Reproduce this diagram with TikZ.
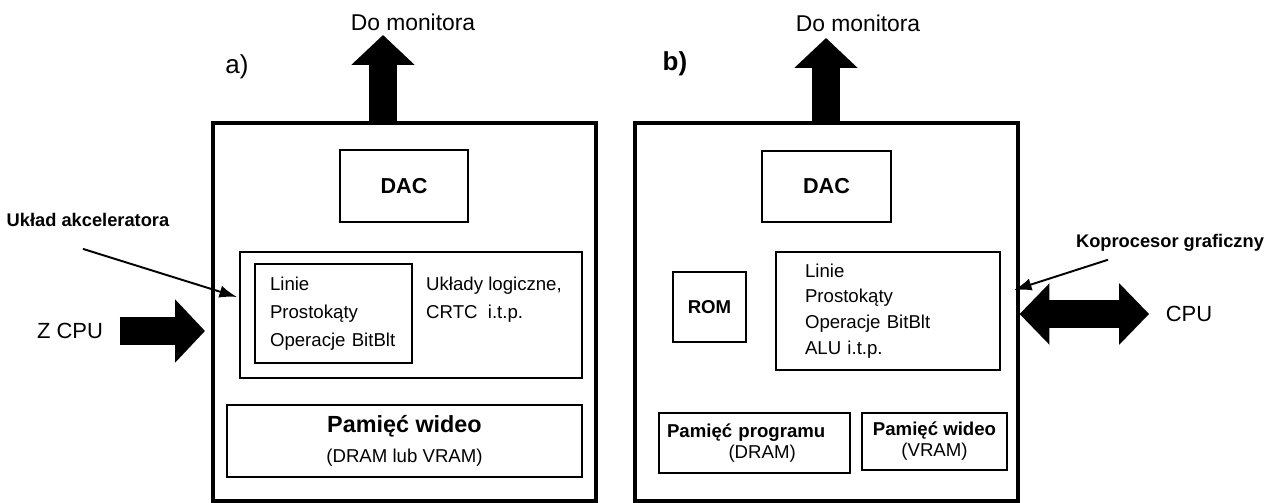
\documentclass[tikz,border=0pt]{standalone}
\usepackage{fontspec}
\setmainfont{Liberation Sans}
\usetikzlibrary{arrows.meta,calc}
\tikzset{>=stealth,
  outerbox/.style={draw,line width=1.8pt,inner sep=0pt},
  unitbox/.style={draw,line width=1.5pt,inner sep=0pt},
  sz/.style 2 args={minimum width=#1*0.02cm,minimum height=#2*0.02cm},
  bigarrow/.style={line width=16pt,-{Triangle[width=35pt,length=17pt]}},
  dblarrow/.style={line width=16pt,{Triangle[width=34pt,length=17pt]}-{Triangle[width=34pt,length=17pt]}},
  pointer/.style={line width=1.1pt,-{Latex[length=10pt,width=7pt]}},
  monlabel/.style={font={\fontsize{13}{15}\selectfont}},
  panellabel/.style={font={\fontsize{14.8}{17}\selectfont}},
  sidelabel/.style={font={\fontsize{12.5}{15}\selectfont}},
  notetext/.style={font={\bfseries\fontsize{10.4}{12}\selectfont}},
  dactext/.style={font={\bfseries\fontsize{12.3}{14}\selectfont}},
  romtext/.style={font={\bfseries\fontsize{10.6}{12}\selectfont}},
  boxtext/.style={font={\fontsize{10.6}{15.9}\selectfont},align=left},
  memtext/.style={font={\fontsize{10.6}{12}\selectfont},align=left}
}
\begin{document}
\begin{tikzpicture}[x=0.02cm,y=-0.02cm]
\useasboundingbox (0,0) rectangle (1277,503);
\node[outerbox,sz={383}{378}] (boxA) at (404.5,312) {};
\node[unitbox,sz={128}{72},dactext] (dacA) at (404,186) {DAC};
\node[unitbox,sz={342}{126}] (midA) at (411,315) {};
\node[unitbox,boxtext,text width=2.54cm,inner xsep=0.3cm,minimum height=1.98cm] (bltA) at (333.5,313.5) {Linie\\Prostokąty\\Operacje BitBlt};
\node[boxtext] (logA) at (494,300) {Układy logiczne,\\CRTC\ \ i.t.p.};
\node[unitbox,sz={355}{72},align=center,font={\fontsize{10.6}{17}\selectfont}] (vramA) at (404.5,441) {{\bfseries\fontsize{13.3}{17}\selectfont Pamięć wideo}\\(DRAM lub VRAM)};
\node[monlabel] (monA) at (413,22) {Do monitora};
\node[panellabel] (labA) at (237,67) {a)};
\node[notetext] (akc) at (88,220) {Układ akceleratora};
\node[sidelabel] (zcpu) at (70,331) {Z CPU};
\coordinate (upA) at (383,35);
\coordinate (zin) at (205,331);
\coordinate (akcTip) at (237,297);
\draw[bigarrow] (boxA.north -| upA) -- (upA);
\draw[bigarrow] ([xshift=6pt]zcpu.east) -- (zin);
\draw[pointer] ($(akc.south)+(-5,16)$) -- (akcTip);
\node[outerbox,sz={383}{378}] (boxB) at (826.5,312) {};
\node[unitbox,sz={129}{71},dactext] (dacB) at (826.5,186.5) {DAC};
\node[unitbox,sz={73}{70},romtext] (romB) at (709.5,307) {ROM};
\node[unitbox,boxtext,text width=3.32cm,inner xsep=0.58cm,minimum height=2.36cm,font={\fontsize{10.6}{14.6}\selectfont}] (cpB) at (888,311) {Linie\\Prostokąty\\Operacje BitBlt\\ALU i.t.p.};
\node[unitbox,memtext,text width=3.5cm,inner xsep=0.16cm,minimum height=1.2cm] (progB) at (754.5,443) {\textbf{Pamięć programu}\\\hspace*{35pt}(DRAM)};
\node[unitbox,memtext,sz={145}{57},align=center] (vidB) at (934.5,441.5) {\textbf{Pamięć wideo}\\(VRAM)};
\node[monlabel] (monB) at (858,23) {Do monitora};
\node[panellabel,font={\bfseries\fontsize{14.8}{17}\selectfont}] (labB) at (675,64) {b)};
\node[notetext] (kop) at (1170,243) {Koprocesor graficzny};
\node[sidelabel] (cpu) at (1189,314) {CPU};
\coordinate (upB) at (826,38);
\coordinate (kopTip) at (1014,290);
\draw[bigarrow] (boxB.north -| upB) -- (upB);
\draw[dblarrow] (boxB.east |- cpu) -- ([xshift=-6pt]cpu.west);
\draw[pointer] ($(kop.south)+(-62,2)$) -- (kopTip);
\end{tikzpicture}
\end{document}
